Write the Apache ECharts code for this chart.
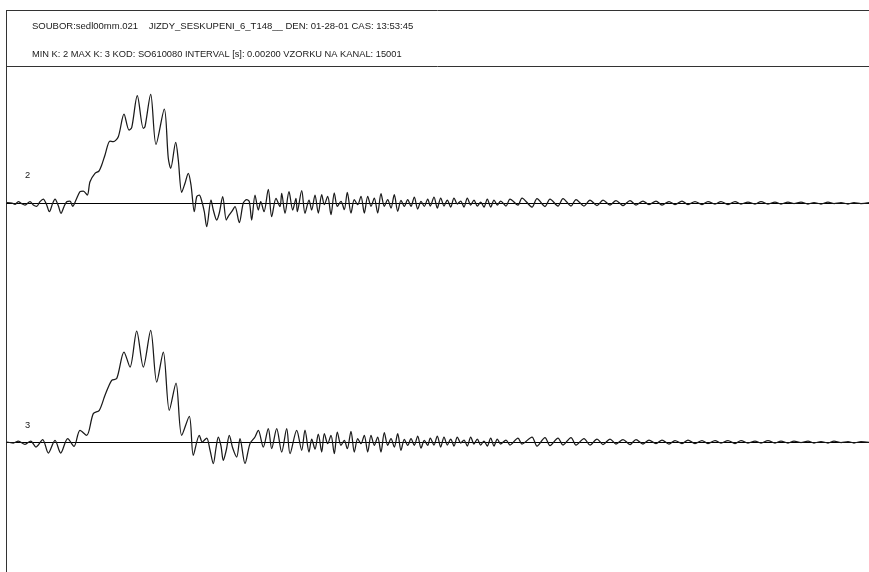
<!DOCTYPE html>
<html>
<head>
<meta charset="utf-8">
<script src="https://cdn.jsdelivr.net/npm/echarts@6/dist/echarts.min.js"></script>
<style>html,body{margin:0;padding:0;background:#fff}#c{width:869px;height:572px}</style>
</head>
<body>
<div id="c"></div>
<script>
// Header texts
const headerLine1 = 'SOUBOR:sedl00mm.021    JIZDY_SESKUPENI_6_T148__ DEN: 01-28-01 CAS: 13:53:45';
const headerLine2 = 'MIN K: 2 MAX K: 3 KOD: SO610080 INTERVAL [s]: 0.00200 VZORKU NA KANAL: 15001';
const channelNames = ['2', '3'];

// Channel 2: position along time axis (0..862) and amplitude
const time2 = [0,5,8,11.3,14.7,18,23,26.3,29.7,33,36.3,39.7,42.3,45.7,48,51.3,54,57,59.7,63,65.7,69,73,76.3,80.3,83,88,92,94.7,98,103,106.3,111.3,117,122,124.7,130.3,136.3,138,143.7,149,157.3,161.3,163.7,168.7,171.3,174.7,178,181.3,184,187.3,189.7,192.3,194.7,197.3,199.7,204,206.3,209.7,212.3,215.7,219.3,221.3,224.7,228,232.3,236.3,239.7,242.3,244.7,248,251.3,253.7,257,261.3,264.7,269,273,274.7,278,282,285.7,289,290.3,294.7,298,302,304.7,308,311.3,314.7,317.3,320.7,324,327.3,330.3,334,337.3,340.3,344,347.3,350.7,354,357.3,360.7,364,367.3,370.7,374,377.3,380.7,384,387.3,390.7,394,397.3,400.7,404,407.3,410.7,414,417.3,420.7,423.3,427,430.3,433.7,437,440.3,443.7,447,450.3,453.7,457,460.3,463.7,467,470.3,473.7,477,480.3,483.7,487,490.3,493.7,499,503,511,515,525,530,538,543,551,556,564,569,577,583,590,596,603,609,616,623,629,636,642,649,655,662,668,675,681,688,695,701,708,714,721,728,734,741,748,754,761,768,774,781,787,794,801,807,814,821,827,834,841,847,854,862];
const amp2 = [0.5,0,-1.3,1.3,-0.7,-2,1.3,-2,-3.3,1.3,4,-2,-8.7,-0.3,4,-2.7,-10.3,-3.7,1.3,2,-3.3,3,11.3,12,8,21.3,29.7,32,38,48,62,61.3,66.3,89,73,75.3,107.3,74.7,76.3,108.7,58.7,94,44.7,34.7,60.7,43,10.7,19.7,29.7,18,-8.7,6.3,8,2,-8.7,-23.7,3,-7,-17,-10,6.3,-17,-13.3,-8.7,-3.7,-19.7,0,3.3,1.3,-17,8,-7,1.3,-8.7,13.7,-13.7,4.7,-3.7,9.7,-10.3,11.3,-7,4.7,-8.7,12.3,-10.3,3,-7,8,-10,8.3,-1.7,6.7,-11.7,10,-3.3,1.7,-6.7,10.7,-10,3.3,-1.7,6.7,-10,6.7,-3.3,5,-10,9.3,-3.3,3.3,-5,8.3,-8.3,2.7,-3.3,3.3,-3.3,6,-6,1.7,-3.3,4,-3,6,-5,5,-3,3,-4,5,-1,2,-4,5,-2,3,-3,1,-4,4,-4,3,-2,2,-3,4,-2,5,-4,4.5,-3.5,4,-3,4.5,-3,3.5,-3,3,-2.5,3,-2,2.5,-2.5,2.5,-2,2,-1.5,2,-2,1.5,-1.5,2,-1.5,1.5,-1.5,1.5,-1,1.5,-1.5,1.5,-1,1,-1,1.5,-1,1,-1,1,-0.5,1,-1,0.5,-1,1,-0.5,0.5,-1,0.5,-0.5,0.5,-1,0.5,0];

// Channel 3
const time3 = [0,6.3,11.3,18,23.7,29,35.7,41.3,48,53.7,60.7,67,73,79.7,86.3,92.3,98,104.7,109.7,117,123,129.7,136.3,143.7,149.7,156.3,162.3,169,174.7,182.3,186.3,192.3,195.3,199.7,203,206.3,209,211.3,214,216.3,219.3,222.3,225.7,229.7,233,238,243,248,251.3,256.3,261.3,264.7,269.7,274.7,279.7,283,289.7,294.7,298,302,304.7,308,311.3,314.7,317.3,320.7,324,327.3,330.3,334,337.3,340.3,344,347.3,350.7,354,357.3,360.7,364,367.3,370.7,374,377.3,380.7,384,387.3,390.7,394,397.3,400.7,404,407.3,410.7,414,417.3,420.7,423.3,427,430.3,433.7,437,440.3,443.7,447,450.3,453.7,457,460.3,463.7,467,470.3,473.7,477,480.3,483.7,487,490.3,493.7,499,503,511,515,525,530,538,543,551,556,564,569,577,583,590,596,603,609,616,623,629,636,642,649,655,662,668,675,681,688,695,701,708,714,721,728,734,741,748,754,761,768,774,781,787,794,801,807,814,821,827,834,841,847,854,862];
const amp3 = [0,-1,1,-2.3,1,-5,2.4,-11,1.7,-11,3.4,-4.3,11.7,6.7,28.4,31.7,46.7,61.7,63.4,90,75,111,75,111.7,60,90,31.7,59,6.7,25.7,-13.3,6.7,0,4,-8,-21.6,-6,5,-4,-18.3,-8,6.7,-6,-15,3.4,-21.6,-1.6,5,11.7,-5,13.4,-6.6,13.4,-10,13.4,-11.6,11.7,-8.3,12,-10,3,-7,8,-10,8.3,-1.7,6.7,-11.7,10,-3.3,1.7,-6.7,10.7,-10,3.3,-1.7,6.7,-10,6.7,-3.3,5,-10,9.3,-3.3,3.3,-5,8.3,-8.3,2.7,-3.3,3.3,-3.3,6,-6,1.7,-3.3,4,-3,6,-5,5,-3,3,-4,5,-1,2,-4,5,-2,3,-3,1,-4,4,-4,3,-2,2,-3,4,-2,5,-4,4.5,-3.5,4,-3,4.5,-3,3.5,-3,3,-2.5,3,-2,2.5,-2.5,2.5,-2,2,-1.5,2,-2,1.5,-1.5,2,-1.5,1.5,-1.5,1.5,-1,1.5,-1.5,1.5,-1,1,-1,1.5,-1,1,-1,1,-0.5,1,-1,0.5,-1,1,-0.5,0.5,-1,0.5,-0.5,0.5,-1,0.5,0];

const zip = (t, a) => t.map((v, i) => [v, a[i]]);
const FONT = 'Liberation Sans, Arial, sans-serif';
const txt = {fontFamily: FONT, fontSize: 9.3, fontWeight: 'normal', color: '#1a1a1a'};
const txt1 = Object.assign({}, txt, {fontSize: 9.5});

const chart = echarts.init(document.getElementById('c'), null, {renderer: 'canvas'});
const xAxisBase = {
  type: 'value', min: 0, max: 862,
  axisLine: {show: true, onZero: true, lineStyle: {color: '#000', width: 1}},
  axisTick: {show: false}, axisLabel: {show: false}, splitLine: {show: false}
};
const yAxisBase = {
  type: 'value', min: -120, max: 120, show: false,
  axisLine: {show: false}, splitLine: {show: false}
};
chart.setOption({
  animation: false,
  backgroundColor: '#fff',
  title: [
    {text: headerLine1, left: 27, top: 16, textStyle: txt1},
    {text: headerLine2, left: 27, top: 45, textStyle: txt},
    {text: channelNames[0], left: 20, top: 166, textStyle: txt},
    {text: channelNames[1], left: 20, top: 416, textStyle: txt}
  ],
  graphic: [
    {type: 'line', shape: {x1: 6, y1: 10.5, x2: 869, y2: 10.5}, style: {stroke: '#333', lineWidth: 1}},
    {type: 'line', shape: {x1: 6, y1: 66.5, x2: 869, y2: 66.5}, style: {stroke: '#333', lineWidth: 1}},
    {type: 'line', shape: {x1: 6.5, y1: 10, x2: 6.5, y2: 572}, style: {stroke: '#333', lineWidth: 1}}
  ],
  grid: [
    {left: 7, right: 0, top: 83, height: 240},
    {left: 7, right: 0, top: 322, height: 240}
  ],
  xAxis: [
    Object.assign({gridIndex: 0}, xAxisBase),
    Object.assign({gridIndex: 1}, xAxisBase)
  ],
  yAxis: [
    Object.assign({gridIndex: 0}, yAxisBase),
    Object.assign({gridIndex: 1}, yAxisBase)
  ],
  series: [
    {name: channelNames[0], type: 'line', xAxisIndex: 0, yAxisIndex: 0, data: zip(time2, amp2),
     showSymbol: false, smooth: 0.3, lineStyle: {color: '#1a1a1a', width: 1.25}},
    {name: channelNames[1], type: 'line', xAxisIndex: 1, yAxisIndex: 1, data: zip(time3, amp3),
     showSymbol: false, smooth: 0.3, lineStyle: {color: '#1a1a1a', width: 1.25}}
  ]
});
</script>
</body>
</html>
